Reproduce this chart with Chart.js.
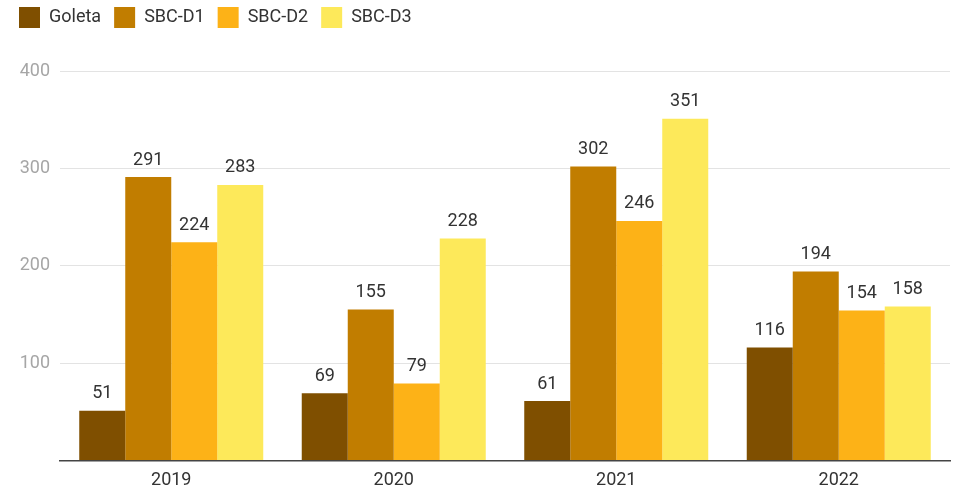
<!DOCTYPE html>
<html>
<head>
<meta charset="utf-8">
<script src="https://cdn.jsdelivr.net/npm/chart.js@4.4.1/dist/chart.umd.min.js"></script>
<style>
  html, body { margin: 0; padding: 0; background: #ffffff; }
  #wrap { width: 957px; height: 488px; position: relative; }
</style>
</head>
<body>
<div id="wrap"><canvas id="chart" width="957" height="488"></canvas></div>
<script>
// Years on the x axis
const years = ['2019', '2020', '2021', '2022'];

// Counts per site and year
const goleta = [51, 69, 61, 116];
const sbcD1 = [291, 155, 302, 194];
const sbcD2 = [224, 79, 246, 154];
const sbcD3 = [283, 228, 351, 158];

// Series names and fills
const seriesNames = ['Goleta', 'SBC-D1', 'SBC-D2', 'SBC-D3'];
const seriesColors = ['#7f4f00', '#c17d00', '#fdb217', '#fde95a'];

// Value axis ticks
const yTicks = [0, 100, 200, 300, 400];

const seriesValues = [goleta, sbcD1, sbcD2, sbcD3];

// Leaves extra room between the legend and the plot
const legendGap = {
  id: 'legendGap',
  beforeInit(chart) {
    const fit = chart.legend.fit;
    chart.legend.fit = function () {
      fit.call(this);
      this.height += 33;
    };
  }
};

// Writes each bar's value just above it
const valueLabels = {
  id: 'valueLabels',
  afterDatasetsDraw(chart) {
    const ctx = chart.ctx;
    ctx.save();
    ctx.font = '18px Roboto';
    ctx.fillStyle = '#333333';
    ctx.textAlign = 'center';
    ctx.textBaseline = 'middle';
    chart.data.datasets.forEach((ds, i) => {
      const meta = chart.getDatasetMeta(i);
      meta.data.forEach((bar, j) => {
        ctx.fillText(String(ds.data[j]), bar.x, bar.y - 17);
      });
    });
    ctx.restore();
  }
};

new Chart(document.getElementById('chart'), {
  type: 'bar',
  data: {
    labels: years,
    datasets: seriesNames.map((name, i) => ({
      label: name,
      data: seriesValues[i],
      backgroundColor: seriesColors[i],
      borderWidth: 0,
      categoryPercentage: 0.827,
      barPercentage: 1.0
    }))
  },
  options: {
    responsive: false,
    animation: false,
    devicePixelRatio: 1,
    layout: { padding: { left: 6, right: 7, top: -6, bottom: -12 } },
    plugins: {
      legend: {
        display: true,
        position: 'top',
        align: 'start',
        labels: {
          boxWidth: 21,
          boxHeight: 21,
          padding: 13,
          color: '#333333',
          font: { family: 'Roboto', size: 18 }
        }
      },
      tooltip: { enabled: false }
    },
    scales: {
      x: {
        grid: { display: false, drawTicks: false },
        border: { display: true, color: '#444444', width: 1.5 },
        ticks: {
          color: '#333333',
          font: { family: 'Roboto', size: 18 },
          padding: 9
        }
      },
      y: {
        min: yTicks[0],
        max: yTicks[yTicks.length - 1],
        afterFit(scale) { scale.width = 54; },
        afterBuildTicks(scale) { scale.ticks = yTicks.map(v => ({ value: v })); },
        grid: { color: '#e3e3e3', lineWidth: 1, drawTicks: false },
        border: { display: false },
        ticks: {
          color: '#a6a6a6',
          font: { family: 'Roboto', size: 18 },
          padding: 10,
          callback: (v) => (v === 0 ? '' : String(v))
        }
      }
    }
  },
  plugins: [legendGap, valueLabels]
});
</script>
</body>
</html>
